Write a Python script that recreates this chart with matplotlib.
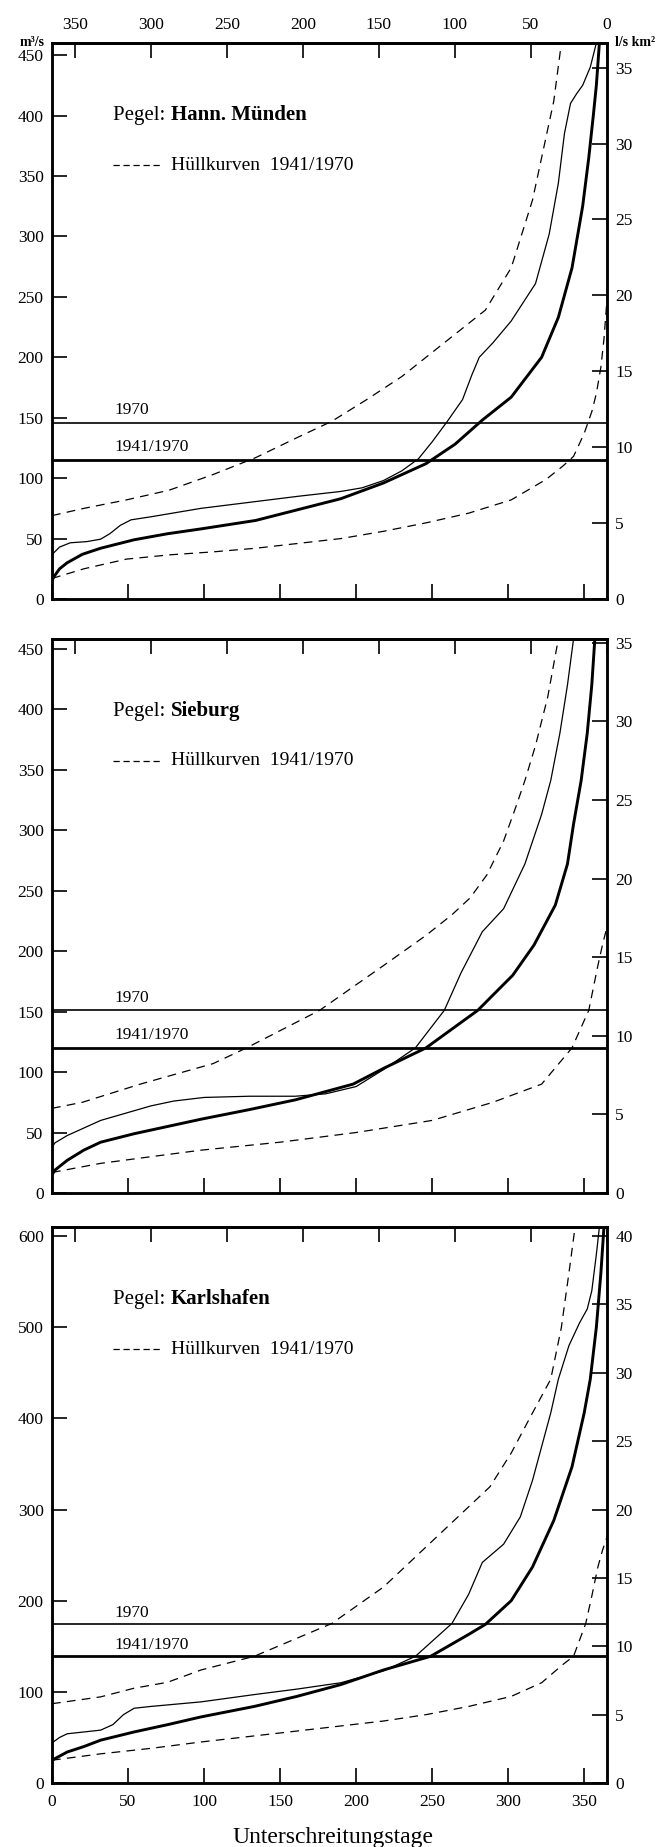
import matplotlib
matplotlib.use("Agg")
import matplotlib.pyplot as plt

plt.rcParams['font.family'] = ['Liberation Serif', 'DejaVu Serif']

# Dauerlinien der Abflüsse, x = Unterschreitungstage, y = m³/s
# --- Pegel Hann. Münden ---
muenden_mean_d = [0, 1, 5, 10, 20, 32, 54, 76, 98, 134, 162, 190, 218, 246, 265, 283, 302, 322, 333, 342, 349, 353, 356, 358, 360]
muenden_mean_q = [15, 18, 25, 30, 37, 42, 49, 54, 58, 65, 74, 83, 96, 112, 128, 148, 167, 200, 233, 274, 325, 365, 400, 425, 460]
muenden_1970_d = [0, 1, 5, 12, 23, 32, 38, 45, 52, 65, 98, 130, 162, 190, 204, 218, 230, 241, 250, 260, 270, 276, 281, 290, 302, 318, 327, 333, 337, 341, 345, 349, 354, 358]
muenden_1970_q = [35, 38, 43, 46.5, 47.5, 49.5, 54, 61, 65.5, 68, 75, 80, 85, 89, 92, 98, 106, 116, 130, 147, 165, 185, 200, 212, 230, 261, 302, 344, 385, 410, 418, 425, 440, 460]
muenden_upper_d = [0, 21, 49, 77, 106, 134, 162, 184, 207, 230, 263, 285, 302, 316, 323, 330, 335]
muenden_upper_q = [69, 75, 82, 90, 103, 117, 134, 147, 165, 184, 217, 239, 274, 330, 371, 412, 460]
muenden_lower_d = [0, 21, 49, 77, 106, 134, 162, 190, 218, 246, 274, 302, 325, 336, 343, 350, 355, 358, 361, 363, 365]
muenden_lower_q = [17, 25, 33, 36.5, 39, 42, 46, 50, 56, 63, 71, 82, 99, 110, 118, 137, 155, 170, 192, 215, 248]
muenden_mq_1970 = 146
muenden_mq_4170 = 115

# --- Pegel Sieburg ---
sieburg_mean_d = [0, 2, 10, 21, 32, 54, 76, 98, 130, 160, 198, 218, 246, 280, 303, 317, 331, 339, 343, 348, 352, 355, 357]
sieburg_mean_q = [15, 19, 27, 35.5, 42, 49, 55, 61, 69, 77, 90, 103, 120, 151, 180, 205, 238, 272, 305, 341, 380, 420, 458]
sieburg_1970_d = [0, 2, 10, 32, 54, 65, 80, 100, 130, 160, 180, 200, 218, 239, 258, 269, 283, 297, 311, 322, 328, 334, 339, 343]
sieburg_1970_q = [38, 41.5, 47.5, 60, 68, 72, 76, 79, 80, 80, 82, 88, 102, 120, 151, 182, 216, 235, 272, 313, 341, 380, 420, 458]
sieburg_upper_d = [0, 20, 58, 106, 128, 176, 218, 246, 263, 275, 286, 297, 305, 311, 318, 326, 333]
sieburg_upper_q = [70, 75, 90, 107, 120, 151, 188, 213, 230, 244, 263, 291, 319, 341, 370, 410, 458]
sieburg_lower_d = [0, 32, 65, 98, 150, 200, 250, 290, 322, 342, 353, 359, 362, 365]
sieburg_lower_q = [17, 24.5, 30, 35.4, 42, 50, 60, 75, 90, 120, 151, 188, 205, 220]
sieburg_mq_1970 = 151
sieburg_mq_4170 = 120

# --- Pegel Karlshafen ---
karls_mean_d = [0, 10, 21, 32, 54, 76, 98, 133, 161, 190, 218, 249, 274, 285, 302, 316, 330, 342, 350, 354, 358, 361, 363]
karls_mean_q = [25, 34, 40, 47, 56, 64, 72.5, 84, 95, 108, 124, 139, 163, 174, 200, 237, 288, 347, 406, 443, 500, 560, 610]
karls_1970_d = [0, 5, 10, 21, 32, 40, 47, 54, 65, 98, 133, 161, 190, 218, 239, 263, 274, 283, 297, 308, 316, 328, 333, 340, 347, 352, 355, 358, 360]
karls_1970_q = [44, 50, 54, 56, 58, 64, 75, 82, 84, 89, 97, 103, 110, 123, 139, 175, 207, 242, 262, 292, 332, 406, 443, 480, 505, 520, 540, 580, 610]
karls_upper_d = [0, 32, 54, 76, 98, 133, 184, 218, 246, 274, 288, 302, 316, 328, 335, 340, 344]
karls_upper_q = [87, 94.5, 104, 110.5, 124, 139, 175, 215, 259, 303, 325, 362, 406, 443, 500, 560, 610]
karls_lower_d = [0, 32, 65, 98, 161, 218, 246, 274, 302, 322, 336, 343, 351, 355, 359, 362, 365]
karls_lower_q = [25, 32, 38, 45, 57, 68, 75, 84, 95, 110, 130, 139, 175, 205, 237, 255, 270]
karls_mq_1970 = 174
karls_mq_4170 = 139

day_ticks = [0, 50, 100, 150, 200, 250, 300, 350]
top_ticks = [350, 300, 250, 200, 150, 100, 50, 0]

DASH = (0, (7, 5))


def draw_panel(fig, ax, station, curves, mq_1970, mq_4170, ymax, ystep, rmax, ratio,
               top_labels=False, bottom_labels=False):
    mean_d, mean_q, y70_d, y70_q, up_d, up_q, lo_d, lo_q = curves

    ax.plot(mean_d, mean_q, color='black', lw=2.1, solid_capstyle='round')
    ax.plot(y70_d, y70_q, color='black', lw=0.9)
    ax.plot(up_d, up_q, color='black', lw=0.9, ls=DASH)
    ax.plot(lo_d, lo_q, color='black', lw=0.9, ls=DASH)

    # Mittelwasser
    ax.axhline(mq_1970, color='black', lw=1.2)
    ax.axhline(mq_4170, color='black', lw=2.0)
    ax.text(41, mq_1970 + 4, '1970', fontsize=12.5, ha='left', va='bottom')
    ax.text(41, mq_4170 + 4, '1941/1970', fontsize=12.5, ha='left', va='bottom')

    ax.set_xlim(0, 365)
    ax.set_ylim(0, ymax)
    ax.set_xticks(day_ticks)
    ax.set_yticks(range(0, ymax, ystep))
    ax.tick_params(axis='both', direction='in', length=11, width=1.2,
                   labelsize=12.5, pad=6)
    ax.tick_params(axis='x', top=False, labelbottom=bottom_labels, pad=8)

    # obere Skala: Überschreitungstage (365 - x)
    sec = ax.secondary_xaxis('top', functions=(lambda d: 365 - d, lambda d: 365 - d))
    sec.set_xticks(top_ticks)
    sec.tick_params(direction='in', length=11, width=1.2, labelsize=12.5, pad=7,
                    labeltop=top_labels)
    sec.spines['top'].set_linewidth(1.8)

    rax = ax.twinx()
    rax.set_ylim(0, ymax / ratio)
    rax.set_yticks(range(0, rmax + 1, 5))
    rax.tick_params(axis='y', direction='in', length=11, width=1.2, labelsize=12.5, pad=6)

    for a in (ax, rax):
        for s in a.spines.values():
            s.set_linewidth(1.8)

    pegel = ax.text(0.11, 0.87, 'Pegel: ', transform=ax.transAxes, fontsize=15,
                    ha='left', va='center')
    renderer = fig.canvas.get_renderer()
    w = pegel.get_window_extent(renderer).width * 72 / fig.dpi
    ax.annotate(station, xycoords='axes fraction', xy=(0.11, 0.87), fontsize=15,
                fontweight='bold', ha='left', va='center',
                xytext=(w, 0), textcoords='offset points')
    ax.plot([0.11, 0.195], [0.78, 0.78], transform=ax.transAxes,
            color='black', lw=0.9, ls=(0, (5, 3)))
    ax.text(0.215, 0.78, 'Hüllkurven  1941/1970', transform=ax.transAxes,
            fontsize=14, ha='left', va='center')
    return rax


fig = plt.figure(figsize=(6.69, 18.47), dpi=100)
left, width = 52 / 669, 555 / 669
ax1 = fig.add_axes([left, 1 - 599 / 1847, width, 556 / 1847])
ax2 = fig.add_axes([left, 1 - 1193 / 1847, width, 554 / 1847])
ax3 = fig.add_axes([left, 1 - 1783 / 1847, width, 556 / 1847])

draw_panel(fig, ax1, 'Hann. Münden',
           (muenden_mean_d, muenden_mean_q, muenden_1970_d, muenden_1970_q,
            muenden_upper_d, muenden_upper_q, muenden_lower_d, muenden_lower_q),
           muenden_mq_1970, muenden_mq_4170, 460, 50, 35, 12.56, top_labels=True)
draw_panel(fig, ax2, 'Sieburg',
           (sieburg_mean_d, sieburg_mean_q, sieburg_1970_d, sieburg_1970_q,
            sieburg_upper_d, sieburg_upper_q, sieburg_lower_d, sieburg_lower_q),
           sieburg_mq_1970, sieburg_mq_4170, 458, 50, 35, 13.0)
draw_panel(fig, ax3, 'Karlshafen',
           (karls_mean_d, karls_mean_q, karls_1970_d, karls_1970_q,
            karls_upper_d, karls_upper_q, karls_lower_d, karls_lower_q),
           karls_mq_1970, karls_mq_4170, 610, 100, 40, 15.0, bottom_labels=True)

fig.text(45 / 669, 1 - 43 / 1847, 'm³/s', fontsize=10, fontweight='bold',
         ha='right', va='center')
fig.text(615 / 669, 1 - 43 / 1847, 'l/s km²', fontsize=10, fontweight='bold',
         ha='left', va='center')
fig.text(333 / 669, 1 - 1837 / 1847, 'Unterschreitungstage', fontsize=17,
         ha='center', va='center')

fig.savefig('out.png', dpi=100)
